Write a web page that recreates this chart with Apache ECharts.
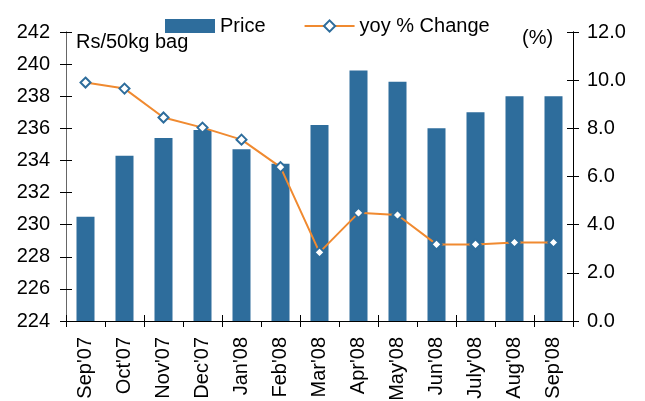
<!DOCTYPE html>
<html><head><meta charset="utf-8">
<script src="https://cdn.jsdelivr.net/npm/echarts@6/dist/echarts.min.js"></script>
<style>html,body{margin:0;padding:0;background:#fff}#c{width:645px;height:401px}</style>
</head><body><div id="c"></div>
<script>
var categories = ["Sep'07","Oct'07","Nov'07","Dec'07","Jan'08","Feb'08","Mar'08","Apr'08","May'08","Jun'08","July'08","Aug'08","Sep'08"];
var price = [230.5,234.3,235.4,235.9,234.7,233.8,236.2,239.6,238.9,236.0,237.0,238.0,238.0];
var yoyChange = [9.9,9.65,8.45,8.03,7.53,6.39,2.85,4.49,4.4,3.18,3.18,3.26,3.26];
var leftTicks = {min:224,max:242,interval:2};
var rightTicks = {min:0,max:12,interval:2};

var FONT = "'Liberation Sans', Arial, sans-serif";
var FS = 20;
var chart = echarts.init(document.getElementById('c'), null, {renderer:'canvas'});
var grid = {left:66,right:72,top:32,bottom:80,outerBoundsMode:'none',containLabel:false};
function yAx(pos, t, inside, labels, fmt, margin, lineColor){
  return {type:'value',position:pos,min:t.min,max:t.max,interval:t.interval,
    axisLine:{show:true,lineStyle:{color:lineColor,width:1}},
    axisTick:{show:true,inside:inside,length:6,lineStyle:{color:'#000'}},
    axisLabel:{show:labels,margin:margin,color:'#000',fontSize:FS,fontFamily:FONT,formatter:fmt},
    splitLine:{show:false}};
}
chart.setOption({
  animation:false,
  grid:grid,
  legend:{left:160,top:11,itemWidth:50,itemHeight:14,itemGap:38,
    textStyle:{fontSize:FS,fontFamily:FONT,color:'#000'},
    data:[{name:'Price',icon:'rect'},{name:'yoy % Change'}]},
  xAxis:[
    {type:'category',data:categories,position:'bottom',
      axisLine:{lineStyle:{color:'#000'}},
      axisTick:{show:true,length:6,lineStyle:{color:'#000'}},
      axisLabel:{rotate:90,margin:16,color:'#000',fontSize:FS,fontFamily:FONT,interval:0}},
    {type:'category',data:categories,position:'bottom',gridIndex:0,
      axisLine:{show:false},
      axisTick:{show:true,inside:true,length:6,lineStyle:{color:'#000'}},
      axisLabel:{show:false}}
  ],
  yAxis:[
    yAx('left',leftTicks,false,true,function(v){return v;},16,'#666'),
    yAx('right',rightTicks,false,true,function(v){return v.toFixed(1);},14,'#000'),
    yAx('left',leftTicks,true,false,null,8,'#666'),
    yAx('right',rightTicks,true,false,null,8,'#000')
  ],
  series:[
    {name:'Price',type:'bar',data:price,barWidth:18,itemStyle:{color:'#2e6d9c'},xAxisIndex:0,yAxisIndex:0},
    {name:'yoy % Change',type:'line',data:yoyChange,xAxisIndex:0,yAxisIndex:1,
      symbol:'diamond',symbolSize:10,
      lineStyle:{color:'#f08a30',width:2},
      itemStyle:{color:'#fff',borderColor:'#2e6d9c',borderWidth:2},
      z:5}
  ],
  graphic:[
    {type:'text',left:76,top:32,style:{text:'Rs/50kg bag',fontSize:FS,fontFamily:FONT,fill:'#000'}},
    {type:'text',left:522,top:28,style:{text:'(%)',fontSize:FS,fontFamily:FONT,fill:'#000'}}
  ]
});
</script></body></html>
